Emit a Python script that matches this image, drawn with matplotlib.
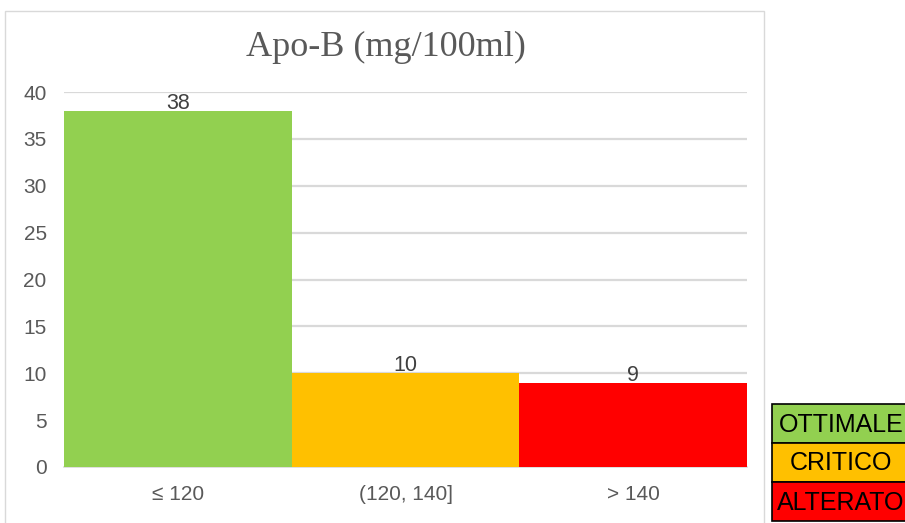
import matplotlib
matplotlib.use("Agg")
import matplotlib.pyplot as plt
from matplotlib.patches import Rectangle

# Apo-B distribution by range
categories = ["\u2264 120", "(120, 140]", "> 140"]
counts = [38, 10, 9]
bar_colors = ["#92D050", "#FFC000", "#FF0000"]
legend_labels = ["OTTIMALE", "CRITICO", "ALTERATO"]
y_ticks = [0, 5, 10, 15, 20, 25, 30, 35, 40]

W, H = 905, 523
fig = plt.figure(figsize=(W / 100, H / 100), dpi=100)
fig.patch.set_facecolor("white")

def fx(px):
    return px / W

def fy(py):
    return 1 - py / H

# chart frame
fig.patches.append(Rectangle((fx(5), fy(540)), fx(764) - fx(5), fy(11) - fy(540),
                             transform=fig.transFigure, fill=False,
                             edgecolor="#D9D9D9", linewidth=1.0, zorder=0))

ax = fig.add_axes([fx(64), fy(467), fx(747) - fx(64), fy(92) - fy(467)])
x = list(range(len(categories)))
bars = ax.bar(x, counts, width=1.0, color=bar_colors, edgecolor="none", zorder=3)

ax.set_xlim(-0.5, len(categories) - 0.5)
ax.set_ylim(0, 40)
ax.set_yticks(y_ticks)
ax.set_xticks(x)
ax.set_xticklabels(categories)
ax.yaxis.grid(True, color="#D9D9D9", linewidth=1.6, zorder=0)
ax.set_axisbelow(True)
for side in ["top", "right", "left"]:
    ax.spines[side].set_visible(False)
ax.spines["bottom"].set_color("#D9D9D9")
ax.spines["bottom"].set_linewidth(1.2)
ax.tick_params(axis="both", length=0, labelsize=15, labelcolor="#595959")
ax.tick_params(axis="y", pad=12.5)
ax.tick_params(axis="x", pad=13)
for lbl in ax.get_xticklabels() + ax.get_yticklabels():
    lbl.set_fontfamily("Liberation Sans")

for xi, v in zip(x, counts):
    ax.annotate(str(v), (xi, v), xytext=(0, 1.5), textcoords="offset points",
                ha="center", va="baseline", fontsize=15.5, color="#404040",
                family="Liberation Sans", zorder=4)

fig.text(fx(386), fy(47), "Apo-B (mg/100ml)", ha="center", va="center",
         fontsize=26, color="#595959", family="Liberation Serif")

# colour key boxes
box_left, box_top, box_h = 772, 404, 39
for i, (lab, col) in enumerate(zip(legend_labels, bar_colors)):
    top = box_top + i * box_h
    fig.patches.append(Rectangle((fx(box_left), fy(top + box_h)), fx(920) - fx(box_left),
                                 fy(top) - fy(top + box_h), transform=fig.transFigure,
                                 facecolor=col, edgecolor="black", linewidth=1.2, zorder=5))
    fig.text(fx(841), fy(top + box_h / 2 + 1), lab, ha="center", va="center",
             fontsize=18, color="black", family="Liberation Sans", zorder=6)

fig.savefig("out.png", dpi=100)
